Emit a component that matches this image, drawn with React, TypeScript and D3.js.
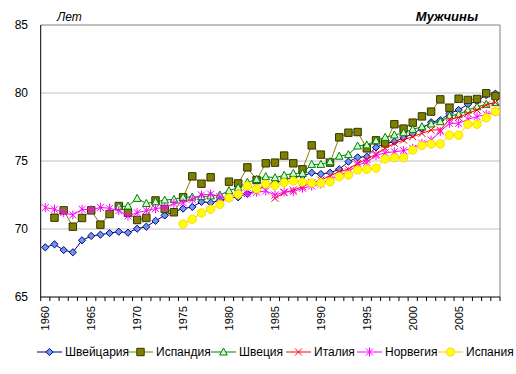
import React, { useEffect, useRef } from 'react';
import * as d3 from 'd3';

// годы (категории оси X)
const years: number[] = d3.range(1960, 2010);

// продолжительность жизни мужчин, лет
const switzerland: (number | null)[] = [
  68.65, 68.87, 68.45, 68.29, 69.17, 69.49, 69.58, 69.7, 69.8, 69.73,
  70.02, 70.17, 70.6, 71.0, 71.27, 71.5, 71.62, 72.0, 71.93, 72.1,
  72.3, 72.33, 72.6, 72.82, 73.2, 73.4, 73.6, 73.8, 73.9, 74.14,
  74.04, 74.14, 74.39, 74.95, 75.27, 75.32, 76.0, 76.3, 76.42, 76.7,
  77.0, 77.4, 77.85, 78.0, 78.5, 78.75, 79.17, 79.4, 79.85, 79.95,
];
const iceland: (number | null)[] = [
  null, 70.83, 71.37, 70.17, 70.81, 71.37, 70.32, 71.1, 71.69, 71.2,
  70.66, 70.81, 72.1, 71.47, 71.23, 72.33, 73.87, 73.33, 73.8, null,
  73.48, 73.35, 74.53, 73.6, 74.83, 74.88, 75.4, 74.83, 74.39, 76.15,
  75.47, 74.88, 76.74, 77.08, 77.13, 75.93, 76.52, 76.3, 77.7, 77.38,
  77.82, 78.28, 78.63, 79.53, 78.92, 79.58, 79.49, 79.56, 79.98, 79.78,
];
const sweden: (number | null)[] = [
  null, null, null, null, null, null, null, null, 71.64, 71.69,
  72.25, 71.88, 72.0, 72.13, 72.18, 72.33, 72.35, 72.38, 72.43, 72.5,
  72.82, 73.04, 73.43, 73.65, 73.85, 73.77, 73.95, 74.09, 74.09, 74.75,
  74.75, 74.95, 75.35, 75.47, 76.1, 76.18, 76.49, 76.74, 76.91, 77.08,
  77.33, 77.52, 77.72, 77.89, 78.31, 78.43, 78.75, 78.99, 79.17, 79.29,
];
const italy: (number | null)[] = [
  null, null, null, null, null, null, null, null, null, null,
  null, null, null, null, null, null, null, null, null, null,
  null, null, null, null, null, 72.26, 72.67, 72.87, 73.11, 73.4,
  73.6, 73.9, 74.21, 74.39, 74.83, 75.12, 75.5, 75.93, 76.3, 76.54,
  76.79, 77.03, 77.28, 77.28, 78.06, 78.2, 78.5, 78.75, 79.12, 79.3,
];
const norway: (number | null)[] = [
  71.57, 71.45, 71.2, 71.03, 71.45, 71.4, 71.59, 71.52, 71.35, 70.96,
  71.2, 71.35, 71.5, 71.59, 71.88, 71.93, 72.18, 72.5, 72.57, 72.38,
  72.3, 72.6, 72.6, 72.7, 72.8, 72.5, 72.72, 72.75, 73.0, 73.16,
  73.3, 73.65, 73.95, 74.2, 74.7, 74.9, 75.4, 75.6, 75.68, 75.76,
  75.93, 76.3, 76.54, 77.16, 77.77, 77.77, 78.06, 78.26, 78.43, 78.63,
];
const spain: (number | null)[] = [
  null, null, null, null, null, null, null, null, null, null,
  null, null, null, null, null, 70.37, 70.71, 71.18, 71.45, 71.81,
  72.3, 72.56, 73.16, 72.94, 73.3, 73.2, 73.42, 73.53, 73.45, 73.38,
  73.38, 73.47, 73.85, 73.97, 74.34, 74.39, 74.48, 75.15, 75.25, 75.25,
  75.8, 76.13, 76.25, 76.25, 76.9, 76.9, 77.7, 77.7, 78.18, 78.63,
];

const yTicks: number[] = [65, 70, 75, 80, 85];
const xLabelYears: number[] = [1960, 1965, 1970, 1975, 1980, 1985, 1990, 1995, 2000, 2005];

type Marker = 'diamond' | 'square' | 'triangle' | 'x' | 'star' | 'circle';

const series = [
  { name: 'Швейцария', values: switzerland, line: '#000080', fill: '#7096EA', stroke: '#000080', marker: 'diamond' as Marker },
  { name: 'Испандия', values: iceland, line: '#808000', fill: '#808000', stroke: '#333300', marker: 'square' as Marker },
  { name: 'Швеция', values: sweden, line: '#008000', fill: '#CCFFCC', stroke: '#008000', marker: 'triangle' as Marker },
  { name: 'Италия', values: italy, line: '#FF0000', fill: 'none', stroke: '#FF0000', marker: 'x' as Marker },
  { name: 'Норвегия', values: norway, line: '#FF00FF', fill: 'none', stroke: '#FF00FF', marker: 'star' as Marker },
  { name: 'Испания', values: spain, line: '#FFCC00', fill: '#FFFF00', stroke: '#FFCC00', marker: 'circle' as Marker },
];

const FONT = 'Arial, "Liberation Sans", sans-serif';

function markerPath(m: Marker): string {
  switch (m) {
    case 'diamond':
      return 'M0,-3.6L3.6,0L0,3.6L-3.6,0Z';
    case 'square':
      return 'M-3.7,-3.7H3.7V3.7H-3.7Z';
    case 'triangle':
      return 'M0,-4L3.8,3L-3.8,3Z';
    case 'x':
      return 'M-3.5,-3.5L3.5,3.5M-3.5,3.5L3.5,-3.5';
    case 'star':
      return 'M-3.5,-3.5L3.5,3.5M-3.5,3.5L3.5,-3.5M0,-4.5V4.5';
    default:
      return '';
  }
}

function drawMarker(g: d3.Selection<SVGGElement, unknown, null, undefined>, s: typeof series[number], x: number, y: number) {
  if (s.marker === 'circle') {
    g.append('circle')
      .attr('cx', x)
      .attr('cy', y)
      .attr('r', 4.2)
      .attr('fill', s.fill)
      .attr('stroke', s.stroke)
      .attr('stroke-width', 0.8);
  } else {
    g.append('path')
      .attr('transform', `translate(${x},${y})`)
      .attr('d', markerPath(s.marker))
      .attr('fill', s.fill)
      .attr('stroke', s.stroke)
      .attr('stroke-width', 1);
  }
}

export default function App() {
  const ref = useRef<SVGSVGElement | null>(null);

  useEffect(() => {
    const svg = d3.select(ref.current);
    svg.selectAll('*').remove();

    const left = 40.7;
    const right = 500;
    const top = 25;
    const bottom = 297;

    const x = d3.scaleBand<number>().domain(years).range([left, right]).padding(0);
    const cx = (yr: number) => (x(yr) as number) + x.bandwidth() / 2;
    const y = d3.scaleLinear().domain([65, 85]).range([bottom, top]);

    // сетка
    svg.append('g')
      .selectAll('line')
      .data(yTicks.filter((t) => t > 65 && t < 85))
      .enter()
      .append('line')
      .attr('x1', left)
      .attr('x2', right)
      .attr('y1', (d) => y(d))
      .attr('y2', (d) => y(d))
      .attr('stroke', '#C0C0C0')
      .attr('stroke-width', 1);

    // рамка области построения
    svg.append('path')
      .attr('d', `M${left},${top}H${right}V${bottom}`)
      .attr('fill', 'none')
      .attr('stroke', '#808080')
      .attr('stroke-width', 1);

    // оси
    svg.append('line')
      .attr('x1', left).attr('x2', left)
      .attr('y1', top).attr('y2', bottom)
      .attr('stroke', '#000').attr('stroke-width', 1);
    svg.append('line')
      .attr('x1', left).attr('x2', right)
      .attr('y1', bottom).attr('y2', bottom)
      .attr('stroke', '#000').attr('stroke-width', 1);

    // деления оси X
    svg.append('g')
      .selectAll('line')
      .data(years.concat([2010]))
      .enter()
      .append('line')
      .attr('x1', (d) => (d === 2010 ? right : (x(d) as number)))
      .attr('x2', (d) => (d === 2010 ? right : (x(d) as number)))
      .attr('y1', bottom)
      .attr('y2', bottom + 4)
      .attr('stroke', '#000');

    // подписи оси Y
    svg.append('g')
      .selectAll('text')
      .data(yTicks)
      .enter()
      .append('text')
      .attr('x', 28)
      .attr('y', (d) => y(d))
      .attr('dy', '0.35em')
      .attr('text-anchor', 'end')
      .style('font-family', FONT)
      .style('font-size', '12px')
      .text((d) => d);

    // подписи оси X (повёрнутые)
    svg.append('g')
      .selectAll('text')
      .data(xLabelYears)
      .enter()
      .append('text')
      .attr('transform', (d) => `translate(${cx(d) + 4},${306}) rotate(-90)`)
      .attr('text-anchor', 'end')
      .style('font-family', FONT)
      .style('font-size', '11px')
      .text((d) => d);

    // заголовки
    svg.append('text')
      .attr('x', 57)
      .attr('y', 21)
      .style('font-family', FONT)
      .style('font-size', '12px')
      .style('font-style', 'italic')
      .text('Лет');
    svg.append('text')
      .attr('x', 478)
      .attr('y', 21)
      .attr('text-anchor', 'end')
      .style('font-family', FONT)
      .style('font-size', '13px')
      .style('font-style', 'italic')
      .style('font-weight', 'bold')
      .text('Мужчины');

    // линии и маркеры
    const line = d3.line<[number, number | null]>()
      .defined((d) => d[1] !== null)
      .x((d) => cx(d[0]))
      .y((d) => y(d[1] as number));

    series.forEach((s) => {
      const pts: [number, number | null][] = years.map((yr, i) => [yr, s.values[i]]);
      const g = svg.append('g');
      g.append('path')
        .datum(pts)
        .attr('d', line)
        .attr('fill', 'none')
        .attr('stroke', s.line)
        .attr('stroke-width', 1);
      pts.forEach((p) => {
        if (p[1] !== null) drawMarker(g as any, s, cx(p[0]), y(p[1]));
      });
    });

    // легенда
    const legendX = [37, 128, 211, 286, 357, 438];
    const ly = 352;
    series.forEach((s, i) => {
      const g = svg.append('g');
      const lx = legendX[i];
      g.append('line')
        .attr('x1', lx).attr('x2', lx + 25)
        .attr('y1', ly).attr('y2', ly)
        .attr('stroke', s.line).attr('stroke-width', 1);
      drawMarker(g as any, s, lx + 12.5, ly);
      g.append('text')
        .attr('x', lx + 28)
        .attr('y', ly)
        .attr('dy', '0.35em')
        .style('font-family', FONT)
        .style('font-size', '12px')
        .text(s.name);
    });
  }, []);

  return (
    <div style={{ position: 'absolute', left: 0, top: 0 }}>
      <svg ref={ref} width={516} height={374} style={{ display: 'block', background: '#fff' }} />
    </div>
  );
}
